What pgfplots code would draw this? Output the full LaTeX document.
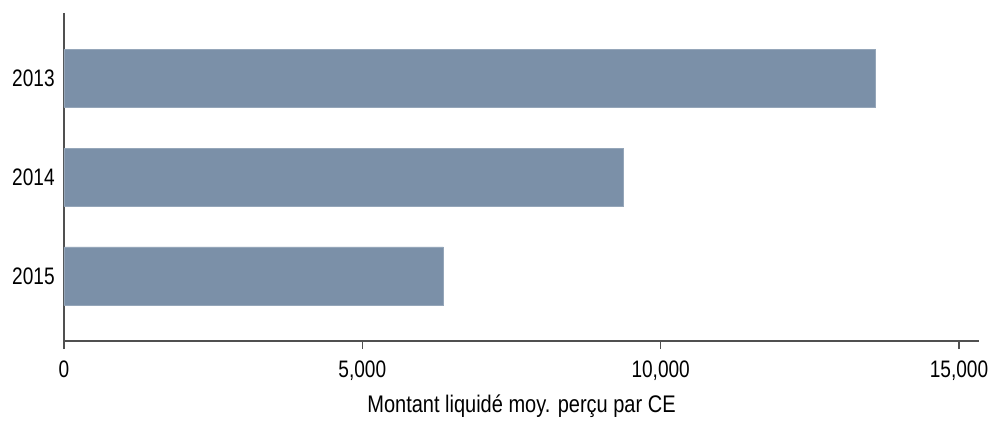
\documentclass[border=0pt]{standalone}
\usepackage{fontspec}
\setmainfont{Liberation Sans}
\usepackage{pgfplots}
\pgfplotsset{compat=1.18}
\definecolor{barc}{HTML}{7B90A8}
\definecolor{axc}{HTML}{505050}
\begin{document}
\begin{tikzpicture}[x=1pt,y=1pt]
\begin{axis}[
  name=ax,
  scale only axis,
  width=686.25pt, height=246pt,
  xbar, bar width=0.586,
  y dir=reverse,
  xmin=0, xmax=15335,
  ymin=-0.657, ymax=2.657,
  axis x line*=bottom, axis y line*=left,
  axis line style={draw=axc, line width=1.1pt},
  ytick={0,1,2}, yticklabels={2013,2014,2015},
  ytick style={draw=none},
  xtick={0,5000,10000,15000},
  xtick style={draw=axc, line width=0.9pt},
  tick align=outside, major tick length=6pt,
  scaled ticks=false,
  /pgf/number format/.cd, 1000 sep={,}, assume math mode=true,
  /pgfplots/.cd,
  every tick label/.append style={font=\fontsize{14.3}{16}\selectfont, text=black},
  yticklabel style={xshift=2.5pt, yscale=1.25},
  xticklabel style={yshift=-4.5pt, yscale=1.25},
  xlabel={Montant liquidé moy. perçu par CE},
  xlabel style={font=\fontsize{15}{16}\selectfont, yshift=-2pt, yscale=1.2},
  clip=false,
]
\addplot[fill=barc, draw=barc!80!white, line width=0.4pt] coordinates {(13590,0) (9380,1) (6360,2)};
\end{axis}
\pgfresetboundingbox
\path[use as bounding box] ([xshift=-48pt,yshift=-60pt]ax.south west) rectangle ([xshift=696pt,yshift=255.75pt]ax.south west);
\end{tikzpicture}
\end{document}
